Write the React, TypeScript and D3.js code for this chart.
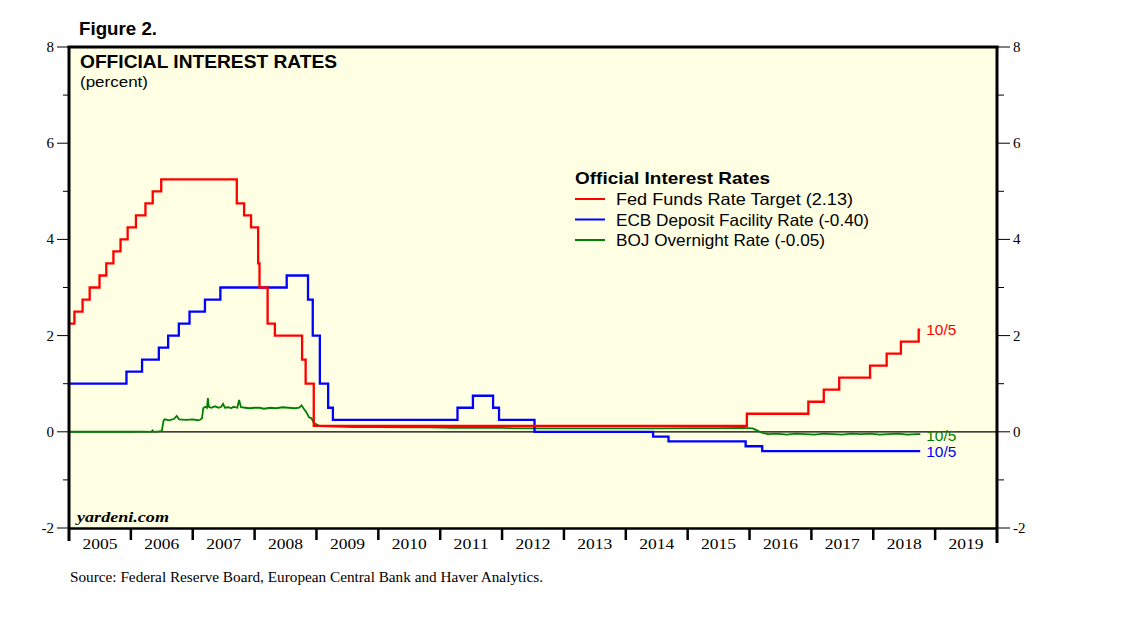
import React from "react";
import * as d3 from "d3";

const fedDates = ["2005-01-01","2005-02-02","2005-03-22","2005-05-03","2005-06-30","2005-08-09","2005-09-20","2005-11-01","2005-12-13","2006-01-31","2006-03-28","2006-05-10","2006-06-29","2007-09-18","2007-10-31","2007-12-11","2008-01-22","2008-01-30","2008-03-18","2008-04-30","2008-10-08","2008-10-29","2008-12-16","2015-12-16","2016-12-14","2017-03-15","2017-06-14","2017-12-13","2018-03-21","2018-06-13","2018-09-26","2018-10-05"];
const fedValues = [2.25,2.5,2.75,3.0,3.25,3.5,3.75,4.0,4.25,4.5,4.75,5.0,5.25,4.75,4.5,4.25,3.5,3.0,2.25,2.0,1.5,1.0,0.125,0.375,0.625,0.875,1.125,1.375,1.625,1.875,2.125,2.125];

const ecbDates = ["2005-01-01","2005-12-06","2006-03-08","2006-06-15","2006-08-09","2006-10-11","2006-12-13","2007-03-14","2007-06-13","2008-07-09","2008-11-12","2008-12-10","2009-01-21","2009-03-11","2009-04-08","2011-04-13","2011-07-13","2011-11-09","2011-12-14","2012-07-11","2014-06-11","2014-09-10","2015-12-09","2016-03-16","2018-10-05"];
const ecbValues = [1.0,1.25,1.5,1.75,2.0,2.25,2.5,2.75,3.0,3.25,2.75,2.0,1.0,0.5,0.25,0.5,0.75,0.5,0.25,0.0,-0.1,-0.2,-0.3,-0.4,-0.4];

const bojYears = [2005.0,2005.5,2006.0,2006.2,2006.33,2006.35,2006.37,2006.45,2006.5,2006.53,2006.55,2006.62,2006.7,2006.74,2006.78,2006.9,2007.0,2007.08,2007.12,2007.15,2007.17,2007.2,2007.23,2007.245,2007.26,2007.3,2007.36,2007.42,2007.46,2007.49,2007.52,2007.58,2007.62,2007.66,2007.72,2007.75,2007.78,2007.85,2007.92,2008.0,2008.08,2008.15,2008.25,2008.35,2008.45,2008.55,2008.65,2008.72,2008.76,2008.8,2008.84,2008.88,2008.92,2008.96,2009.05,2009.3,2009.6,2010.0,2010.4,2010.8,2011.2,2011.6,2012.0,2012.5,2013.0,2013.5,2014.0,2014.5,2015.0,2015.5,2015.9,2016.05,2016.12,2016.2,2016.3,2016.45,2016.6,2016.75,2016.9,2017.05,2017.2,2017.35,2017.5,2017.65,2017.8,2017.95,2018.1,2018.25,2018.4,2018.55,2018.7,2018.76];
const bojValues = [0.001,0.001,0.001,0.002,0.0,0.03,0.0,0.01,0.02,0.24,0.26,0.24,0.27,0.33,0.26,0.25,0.26,0.24,0.25,0.28,0.49,0.52,0.5,0.7,0.52,0.5,0.53,0.5,0.52,0.58,0.5,0.51,0.49,0.52,0.5,0.66,0.51,0.5,0.49,0.5,0.5,0.48,0.5,0.49,0.51,0.5,0.49,0.5,0.55,0.47,0.4,0.3,0.28,0.18,0.12,0.11,0.1,0.1,0.09,0.09,0.08,0.08,0.08,0.07,0.07,0.07,0.07,0.07,0.075,0.075,0.08,0.07,0.03,-0.02,-0.05,-0.04,-0.06,-0.04,-0.05,-0.06,-0.04,-0.05,-0.06,-0.04,-0.05,-0.04,-0.06,-0.05,-0.04,-0.06,-0.05,-0.05];

const yTicks = [-2, 0, 2, 4, 6, 8];
const yMinor = [-1, 1, 3, 5, 7];
const years = d3.range(2005, 2020);

const legendNames = ["Fed Funds Rate Target (2.13)", "ECB Deposit Facility Rate (-0.40)", "BOJ Overnight Rate (-0.05)"];
const legendWidths = [237, 253, 209];
const colors = ["#ff0000", "#0000ff", "#008000"];

function toYear(s: string): number {
  const d = new Date(s + "T00:00:00Z");
  const y = d.getUTCFullYear();
  const start = Date.UTC(y, 0, 1);
  const end = Date.UTC(y + 1, 0, 1);
  return y + (d.getTime() - start) / (end - start);
}

export default function App() {
  const W = 1138, H = 621;
  const x = d3.scaleLinear().domain([2005, 2020]).range([69, 997]);
  const y = d3.scaleLinear().domain([-2, 8]).range([528, 47]);
  const sans = "'Liberation Sans', Arial, sans-serif";
  const serif = "'Liberation Serif', 'Times New Roman', serif";
  const sg = "spacingAndGlyphs";

  const fed = fedDates.map((d, i) => [toYear(d), fedValues[i]] as [number, number]);
  const ecb = ecbDates.map((d, i) => [toYear(d), ecbValues[i]] as [number, number]);
  const boj = bojYears.map((d, i) => [d, bojValues[i]] as [number, number]);

  const step = d3.line<[number, number]>().x(d => x(d[0])).y(d => y(d[1])).curve(d3.curveStepAfter);
  const lin = d3.line<[number, number]>().x(d => x(d[0])).y(d => y(d[1]));

  const endX = x(toYear("2018-10-05"));

  return (
    <svg width={W} height={H} style={{ position: "absolute", left: 0, top: 0, background: "#fff" }}>
      <text x={79} y={35} fontFamily={sans} fontWeight="bold" fontSize={18} textLength={78} lengthAdjust={sg}>Figure 2.</text>
      <rect x={69} y={47} width={928} height={481} fill="#ffffe3" />
      <line x1={69} x2={997} y1={y(0)} y2={y(0)} stroke="#000" strokeWidth={1.2} />
      <path d={lin(boj) || ""} fill="none" stroke={colors[2]} strokeWidth={1.8} />
      <path d={step(ecb) || ""} fill="none" stroke={colors[1]} strokeWidth={2.3} />
      <path d={step(fed) || ""} fill="none" stroke={colors[0]} strokeWidth={2.3} />
      <line x1={67.5} x2={998.5} y1={47} y2={47} stroke="#000" strokeWidth={3} />
      <line x1={68} x2={998} y1={528.5} y2={528.5} stroke="#000" strokeWidth={2.5} />
      <line x1={69} x2={69} y1={46} y2={541} stroke="#000" strokeWidth={3} />
      <line x1={997} x2={997} y1={46} y2={543} stroke="#000" strokeWidth={3} />
      {yTicks.map(t => (
        <g key={"yt" + t}>
          <line x1={57} x2={68} y1={y(t)} y2={y(t)} stroke="#000" strokeWidth={1} />
          <line x1={998} x2={1010} y1={y(t)} y2={y(t)} stroke="#000" strokeWidth={1} />
          <text x={54} y={y(t) + 5} textAnchor="end" fontFamily={serif} fontSize={15}>{t}</text>
          <text x={1013} y={y(t) + 5} fontFamily={serif} fontSize={15}>{t}</text>
        </g>
      ))}
      {yMinor.map(t => (
        <g key={"ym" + t}>
          <line x1={63} x2={68} y1={y(t)} y2={y(t)} stroke="#000" strokeWidth={1} />
          <line x1={998} x2={1004} y1={y(t)} y2={y(t)} stroke="#000" strokeWidth={1} />
        </g>
      ))}
      {years.map(yr => (
        <g key={"x" + yr}>
          {yr > 2005 && <line x1={x(yr)} x2={x(yr)} y1={529} y2={540} stroke="#000" strokeWidth={2.5} />}
          <text x={x(yr + 0.5)} y={549} textAnchor="middle" fontFamily={serif} fontSize={15} textLength={35} lengthAdjust={sg}>{yr}</text>
        </g>
      ))}
      <text x={80} y={68} fontFamily={sans} fontWeight="bold" fontSize={17.5} textLength={257} lengthAdjust={sg}>OFFICIAL INTEREST RATES</text>
      <text x={80} y={87} fontFamily={sans} fontSize={15} textLength={68} lengthAdjust={sg}>(percent)</text>
      <text x={77} y={522} fontFamily={serif} fontStyle="italic" fontWeight="bold" fontSize={15} textLength={92} lengthAdjust={sg}>yardeni.com</text>
      <text x={575} y={184} fontFamily={sans} fontWeight="bold" fontSize={17} textLength={195} lengthAdjust={sg}>Official Interest Rates</text>
      {legendNames.map((n, i) => (
        <g key={n}>
          <line x1={575} x2={605} y1={199 + i * 20.5} y2={199 + i * 20.5} stroke={colors[i]} strokeWidth={2} />
          <text x={616} y={205 + i * 20.5} fontFamily={sans} fontSize={16.5} textLength={legendWidths[i]} lengthAdjust={sg}>{n}</text>
        </g>
      ))}
      <text x={endX + 6} y={335} fontFamily={sans} fontSize={15.5} fill={colors[0]}>10/5</text>
      <text x={endX + 6} y={441} fontFamily={sans} fontSize={15.5} fill={colors[2]}>10/5</text>
      <text x={endX + 6} y={457} fontFamily={sans} fontSize={15.5} fill={colors[1]}>10/5</text>
      <text x={70} y={582} fontFamily={serif} fontSize={14.5} textLength={473} lengthAdjust={sg}>Source: Federal Reserve Board, European Central Bank and Haver Analytics.</text>
    </svg>
  );
}
